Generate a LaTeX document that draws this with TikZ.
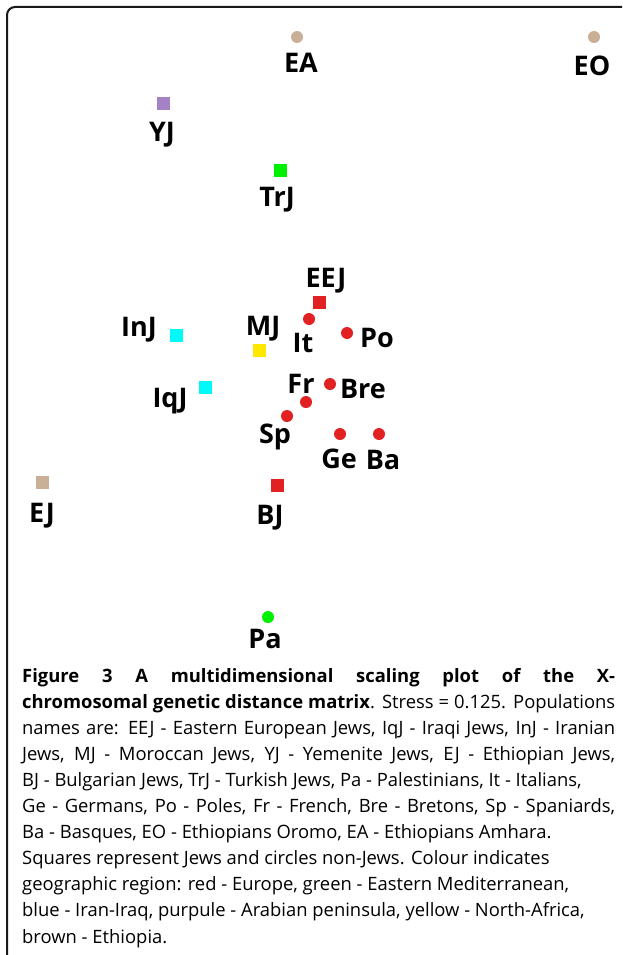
\documentclass[tikz,border=0pt]{standalone}
\usepackage{fontspec}
\setmainfont{Open Sans}
\usetikzlibrary{positioning}
\definecolor{eured}{RGB}{226,34,34}
\definecolor{emgreen}{RGB}{0,240,0}
\definecolor{iqcyan}{RGB}{0,250,250}
\definecolor{nayellow}{RGB}{255,232,0}
\definecolor{arpurple}{RGB}{165,130,195}
\definecolor{ettan}{RGB}{200,175,150}
\tikzset{
  sq/.style={rectangle, minimum size=13pt, inner sep=0pt, fill=#1},
  ci/.style={circle, minimum size=12pt, inner sep=0pt, fill=#1},
  lab/.style={anchor=base, inner sep=0pt, font=\fontsize{27}{30}\selectfont\bfseries},
  captxt/.style={anchor=base west, inner sep=0pt, font=\fontsize{18.4}{22}\selectfont},
  framepath/.style={line width=2pt, draw=black!90, rounded corners=8pt}
}
\newcommand{\jline}[1]{\makebox[593pt][s]{#1}}
\begin{document}
\begin{tikzpicture}[x=1pt,y=-1pt]
\useasboundingbox (0,0) rectangle (622,955);
\draw[framepath] (7,956) -- (7,7) -- (622,7);
% markers
\node[ci=ettan] (EA) at (297,37) {};
\node[ci=ettan] (EO) at (594,37) {};
\node[sq=arpurple] (YJ) at (163,104) {};
\node[sq=emgreen] (TrJ) at (280,170) {};
\node[sq=eured] (EEJ) at (319,302) {};
\node[ci=eured] (It) at (309,319) {};
\node[ci=eured] (Po) at (347,333) {};
\node[sq=nayellow] (MJ) at (259,350) {};
\node[sq=iqcyan] (InJ) at (176,335) {};
\node[sq=iqcyan] (IqJ) at (205,387) {};
\node[ci=eured] (Fr) at (306,402) {};
\node[ci=eured] (Bre) at (330,384) {};
\node[ci=eured] (Sp) at (287,416) {};
\node[ci=eured] (Ge) at (340,434) {};
\node[ci=eured] (Ba) at (379,434) {};
\node[sq=ettan] (EJ) at (42,482) {};
\node[sq=eured] (BJ) at (277,485) {};
\node[ci=emgreen] (Pa) at (268,617) {};
% labels
\node[lab] (lEA) at (301,73) {EA};
\node[lab] (lEO) at (592,76) {EO};
\node[lab] (lYJ) at (162,141) {YJ};
\node[lab] (lTrJ) at (277,206) {TrJ};
\node[lab] (lEEJ) at (326,287) {EEJ};
\node[lab] (lIt) at (303,352) {It};
\node[lab] (lPo) at (377,347) {Po};
\node[lab] (lMJ) at (263,335) {MJ};
\node[lab] (lInJ) at (139,336) {InJ};
\node[lab] (lIqJ) at (170,407) {IqJ};
\node[lab] (lFr) at (301,393) {Fr};
\node[lab] (lBre) at (363,398) {Bre};
\node[lab] (lSp) at (275,443) {Sp};
\node[lab] (lGe) at (339,468) {Ge};
\node[lab] (lBa) at (383,469) {Ba};
\node[lab] (lEJ) at (42,522) {EJ};
\node[lab] (lBJ) at (270,524) {BJ};
\node[lab] (lPa) at (265,648) {Pa};
% caption
\node[captxt] (c1) at (22,682) {\jline{\bfseries Figure 3 A multidimensional scaling plot of the X-}};
\node[captxt] (c2) at (22,708.1) {\jline{\textbf{chromosomal genetic distance matrix}. Stress = 0.125. Populations}};
\node[captxt] (c3) at (22,734.2) {\jline{names are: EEJ - Eastern European Jews, IqJ - Iraqi Jews, InJ - Iranian}};
\node[captxt] (c4) at (22,760.3) {\jline{Jews, MJ - Moroccan Jews, YJ - Yemenite Jews, EJ - Ethiopian Jews,}};
\node[captxt] (c5) at (22,786.4) {BJ - Bulgarian Jews, TrJ - Turkish Jews, Pa - Palestinians, It - Italians,};
\node[captxt] (c6) at (22,812.5) {\jline{Ge - Germans, Po - Poles, Fr - French, Bre - Bretons, Sp - Spaniards,}};
\node[captxt] (c7) at (22,838.6) {Ba - Basques, EO - Ethiopians Oromo, EA - Ethiopians Amhara.};
\node[captxt] (c8) at (22,864.7) {Squares represent Jews and circles non-Jews. Colour indicates};
\node[captxt] (c9) at (22,890.8) {geographic region: red - Europe, green - Eastern Mediterranean,};
\node[captxt] (c10) at (22,916.9) {blue - Iran-Iraq, purpule - Arabian peninsula, yellow - North-Africa,};
\node[captxt] (c11) at (22,943) {brown - Ethiopia.};
\end{tikzpicture}
\end{document}
